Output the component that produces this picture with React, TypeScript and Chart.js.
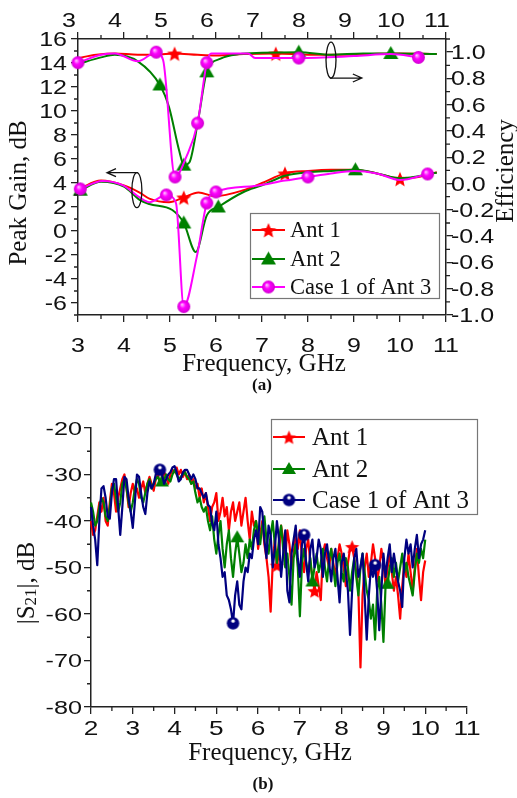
import React, { useEffect, useRef } from 'react';
import { Chart, registerables } from 'chart.js';
Chart.register(...registerables);

const RED = '#ff0000';
const GREEN = '#008000';
const MAGENTA = '#ff00ff';
const NAVY = '#000080';
const AXIS = '#222222';

// ---------- (a) tick labels ----------
const freqTicksA = [3, 4, 5, 6, 7, 8, 9, 10, 11];
const gainTicks = [-6, -4, -2, 0, 2, 4, 6, 8, 10, 12, 14, 16];
const effTicks = [-1.0, -0.8, -0.6, -0.4, -0.2, 0.0, 0.2, 0.4, 0.6, 0.8, 1.0];

// ---------- (b) tick labels ----------
const freqTicksB = [2, 3, 4, 5, 6, 7, 8, 9, 10, 11];
const s21Ticks = [-80, -70, -60, -50, -40, -30, -20];

const seriesNames = ['Ant 1', 'Ant 2', 'Case 1 of Ant 3'];

// ---------- (a) efficiency (right axis) ----------
const effFreqAnt1 = [3.0, 3.4, 3.8, 4.3, 4.7, 5.1, 5.6, 6.0, 6.6, 7.3, 8.0, 8.7, 9.3, 10.0, 10.8];
const effAnt1 = [0.955, 0.98, 0.99, 0.98, 0.98, 0.99, 0.98, 0.975, 0.985, 0.99, 0.98, 0.98, 0.985, 0.99, 0.985];
const effMarksAnt1 = [5.1, 7.3];

const effFreqAnt2 = [3.0, 3.5, 3.8, 4.3, 4.78, 4.98, 5.2, 5.3, 5.42, 5.62, 5.8, 6.1, 6.5, 7.0, 7.8, 8.5, 9.2, 9.8, 10.8];
const effAnt2 = [0.91, 0.96, 0.98, 0.93, 0.75, 0.58, 0.25, 0.14, 0.16, 0.5, 0.85, 0.95, 0.985, 0.995, 1.0, 0.98, 0.99, 0.99, 0.985];
const effMarksAnt2 = [4.78, 5.3, 5.8, 7.8, 9.8];

const effFreqCase1 = [3.0, 3.5, 3.8, 4.3, 4.7, 4.85, 5.11, 5.35, 5.6, 5.8, 5.9, 6.7, 6.85, 7.8, 9.0, 9.8, 10.4];
const effCase1 = [0.92, 0.98, 0.99, 0.93, 1.0, 0.94, 0.05, 0.2, 0.46, 0.92, 0.99, 0.99, 0.955, 0.955, 0.97, 0.985, 0.96];
const effMarksCase1 = [3.0, 4.7, 5.11, 5.6, 5.8, 7.8, 10.4];

// ---------- (a) peak gain (left axis) ----------
const gainFreqAnt1 = [3.02, 3.5, 4.0, 4.34, 4.55, 4.98, 5.3, 5.62, 5.98, 6.6, 7.0, 7.5, 8.0, 8.5, 9.0, 9.5, 10.0, 10.4, 10.8];
const gainAnt1 = [3.5, 4.2, 3.8, 3.2, 2.7, 2.4, 2.8, 3.2, 2.9, 3.4, 4.0, 4.8, 5.0, 5.1, 5.1, 4.8, 4.35, 4.5, 4.9];
const gainMarksAnt1 = [5.3, 7.5, 10.0];

const gainFreqAnt2 = [3.05, 3.5, 4.0, 4.34, 4.55, 5.05, 5.3, 5.56, 5.8, 6.05, 6.6, 7.0, 7.5, 8.0, 8.5, 9.03, 9.5, 10.0, 10.8];
const gainAnt2 = [3.4, 4.1, 3.7, 2.6, 2.25, 1.75, 0.67, -1.75, 1.3, 2.0, 3.25, 3.8, 4.6, 4.9, 5.0, 5.1, 4.8, 4.4, 4.85];
const gainMarksAnt2 = [3.05, 5.3, 6.05, 9.03];

const gainFreqCase1 = [3.05, 3.53, 3.98, 4.34, 4.55, 4.92, 5.13, 5.3, 5.58, 5.8, 6.0, 6.84, 7.5, 8.0, 8.5, 9.0, 9.5, 10.0, 10.6];
const gainCase1 = [3.5, 4.17, 3.8, 2.8, 2.4, 3.0, 2.33, -6.3, -2.2, 2.33, 3.25, 3.75, 4.2, 4.5, 4.8, 5.0, 4.8, 4.25, 4.75];
const gainMarksCase1 = [3.05, 4.92, 5.3, 5.8, 6.0, 8.0, 10.6];

// ---------- (b) |S21| measured sweep, 2..10 GHz, 0.05 GHz step ----------
const freqB: number[] = Array.from({ length: 161 }, (_, i) => Math.round((2 + i * 0.05) * 100) / 100);

const s21Ant1 = [
  -40, -43, -42, -39, -36, -38, -35, -40, -41, -36,
  -32, -34, -38, -35, -33, -31, -30, -33, -37, -34,
  -32, -34, -33, -35, -33, -31.5, -34, -32, -30.5, -32,
  -33.5, -31, -30, -32, -31, -29.5, -30.5, -32, -30, -29,
  -29.5, -28.5, -30, -29, -30.5, -29.5, -31, -30, -32, -31,
  -33, -32, -35, -33, -36, -34, -37, -40, -37, -36,
  -34, -40, -38, -35, -39, -37, -42, -38, -36, -40,
  -38, -36, -41, -38, -35, -40, -44, -38, -41, -40,
  -46, -43, -40, -45, -48, -52, -59.5, -49, -44, -49.5,
  -47, -41, -44, -48, -42, -45, -50, -47, -43, -46,
  -42, -48, -51, -46, -44, -49, -52, -55, -51, -54,
  -57, -47, -45, -48, -50, -46, -49, -52, -48, -45,
  -47, -50, -54, -49, -46, -45.5, -48, -51, -55, -71.5,
  -56, -50, -47, -52, -49, -45, -48, -53, -50, -46,
  -49, -54, -50, -47, -51, -55, -52, -56, -61, -54,
  -49, -52, -47, -51, -55, -50, -46, -52, -57, -51,
  -48.5,
];
const s21MarksAnt1 = [6.45, 7.35, 8.25];

const s21Ant2 = [
  -36, -38, -41, -40, -37, -35, -36, -39, -40, -37,
  -33, -32, -35, -38, -36, -32, -31, -33, -36, -38,
  -36, -33, -31, -32, -35, -36, -34, -32, -31, -33,
  -32, -31, -30.5, -31.5, -31.5, -31, -30, -31, -31.5, -30,
  -29, -30, -31, -30.5, -30, -29.5, -30.5, -31, -32, -31.5,
  -34, -36, -35, -37, -38, -37, -40, -42, -39, -44,
  -47, -43, -40, -46, -50, -45, -42, -48, -52, -47,
  -43.5, -47, -51, -49, -45, -48, -44, -46, -42, -40,
  -43, -45, -41, -39, -44, -47, -43, -40, -45, -49,
  -44, -41, -46, -50, -47, -52, -58, -48, -45, -50,
  -60.5, -49, -46, -49, -51, -48, -53, -50, -47, -51,
  -49, -46, -50, -53, -48, -46, -50, -54, -49, -47,
  -51, -53, -48, -50, -55, -51, -48, -52, -56, -50,
  -47, -51, -55, -57, -61, -58, -65.5, -55, -52, -58,
  -66, -54, -53.5, -50, -48, -52, -49, -53, -50, -47,
  -51, -49, -52, -54, -56, -51, -47, -49, -46, -48,
  -44,
];
const s21MarksAnt2 = [3.7, 5.5, 7.3, 9.1];

const s21Case1 = [
  -37, -41, -44, -49.5, -40, -33, -32.5, -35, -39, -39.5,
  -34, -31, -31, -37, -43, -37, -30.5, -31, -35, -38,
  -41.5, -36, -30, -30.5, -34, -37, -38.5, -34, -31.5, -33,
  -32, -30, -29.5, -29, -30, -32, -31, -30, -29.5, -28.5,
  -28.2, -29.5, -31.5, -31, -29.5, -29, -29, -30, -31, -30,
  -31, -33, -33, -34, -35, -34, -36.5, -37, -40.5, -42,
  -38, -45, -48, -52, -51, -56, -57, -59, -62, -56,
  -53, -58, -59, -53, -50, -51, -47, -48, -44, -42,
  -45, -37, -38, -44, -48, -41, -43, -50, -46, -40,
  -44, -52, -47, -42, -55, -57.5, -47, -44, -41, -48,
  -52, -45, -43, -49, -53, -46, -44, -50, -48, -44,
  -46, -52, -47, -45, -49, -53, -48, -46, -52, -57.5,
  -49, -47, -51, -55, -64.5, -55, -48, -46, -52, -50,
  -47, -56, -65.5, -56, -50, -52, -49.5, -55, -63.5, -55,
  -47, -52, -48, -45, -51, -47, -50, -53, -55, -58.5,
  -48, -44, -47, -45, -50, -46, -43, -48, -45, -44,
  -42,
];
const s21MarksCase1 = [3.65, 5.4, 7.1, 8.8];

// ---------- helpers ----------
function makeMarker(kind: string, color: string, size: number): HTMLCanvasElement {
  const c = document.createElement('canvas');
  const s = Math.ceil(size) + 2;
  c.width = s;
  c.height = s;
  const g = c.getContext('2d')!;
  const cx = s / 2, cy = s / 2, r = size / 2;
  g.fillStyle = color;
  if (kind === 'star') {
    g.beginPath();
    for (let k = 0; k < 10; k++) {
      const rad = k % 2 === 0 ? r : r * 0.45;
      const a = -Math.PI / 2 + (k * Math.PI) / 5;
      const px = cx + rad * Math.cos(a);
      const py = cy + 1 + rad * Math.sin(a);
      if (k === 0) g.moveTo(px, py); else g.lineTo(px, py);
    }
    g.closePath();
    g.fill();
  } else if (kind === 'triangle') {
    const h = size * 0.87;
    g.beginPath();
    g.moveTo(cx, cy - h * 0.58);
    g.lineTo(cx + r, cy + h * 0.42);
    g.lineTo(cx - r, cy + h * 0.42);
    g.closePath();
    g.fill();
  } else if (kind === 'ball') {
    const grad = g.createRadialGradient(cx - r * 0.3, cy - r * 0.35, 0, cx, cy, r);
    grad.addColorStop(0, '#ffd8ff');
    grad.addColorStop(0.45, color);
    grad.addColorStop(1, '#d000d0');
    g.fillStyle = grad;
    g.beginPath();
    g.arc(cx, cy, r, 0, Math.PI * 2);
    g.fill();
  } else {
    g.beginPath();
    g.arc(cx, cy, r, 0, Math.PI * 2);
    g.fill();
    g.fillStyle = '#ffffff';
    g.beginPath();
    g.arc(cx, cy - r * 0.35, r * 0.28, 0, Math.PI * 2);
    g.fill();
  }
  return c;
}

function pts(xs: number[], ys: number[]) {
  return xs.map((x, i) => ({ x, y: ys[i] }));
}

function radii(xs: number[], marks: number[], r: number) {
  return xs.map((x) => (marks.some((m) => Math.abs(m - x) < 1e-6) ? r : 0));
}

function minorsOf(majors: number[], min: number, max: number) {
  const step = majors[1] - majors[0];
  const out: number[] = [];
  out.push(majors[0] - step / 2);
  majors.forEach((m) => out.push(m + step / 2));
  return out.filter((v) => v >= min - 1e-9 && v <= max + 1e-9);
}

function drawMinor(ctx: CanvasRenderingContext2D, scale: any, side: string, area: any, values: number[], len: number) {
  ctx.beginPath();
  values.forEach((v) => {
    const p = scale.getPixelForValue(v);
    if (side === 'bottom') { ctx.moveTo(p, area.bottom); ctx.lineTo(p, area.bottom + len); }
    if (side === 'top') { ctx.moveTo(p, area.top); ctx.lineTo(p, area.top - len); }
    if (side === 'left') { ctx.moveTo(area.left, p); ctx.lineTo(area.left - len, p); }
    if (side === 'right') { ctx.moveTo(area.right, p); ctx.lineTo(area.right + len, p); }
  });
  ctx.stroke();
}

// tick labels: drawn with a horizontal stretch to match the wide digits of the original
function drawLabels(ctx: CanvasRenderingContext2D, scale: any, side: string, values: number[], fmt: (v: number) => string,
  font: string, sx: number, anchor: number, shift: number) {
  ctx.save();
  ctx.font = font;
  ctx.fillStyle = '#111';
  ctx.textBaseline = 'alphabetic';
  values.forEach((v) => {
    const p = scale.getPixelForValue(v);
    const t = fmt(v);
    ctx.save();
    if (side === 'bottom' || side === 'top') {
      ctx.translate(p + shift, anchor);
      ctx.textAlign = 'center';
    } else {
      ctx.translate(anchor, p + shift);
      ctx.textAlign = side === 'left' ? 'right' : 'left';
    }
    ctx.scale(sx, 1);
    ctx.fillText(t, 0, 0);
    ctx.restore();
  });
  ctx.restore();
}

function drawText(ctx: CanvasRenderingContext2D, text: string, x: number, y: number, font: string, rotate = 0) {
  ctx.save();
  ctx.translate(x, y);
  ctx.rotate(rotate);
  ctx.font = font;
  ctx.fillStyle = '#111';
  ctx.textAlign = 'center';
  ctx.textBaseline = 'middle';
  ctx.fillText(text, 0, 0);
  ctx.restore();
}

function drawLegend(ctx: CanvasRenderingContext2D, box: number[], rows: number[], x0: number, x1: number, tx: number,
  font: string, items: { label: string; color: string; img: HTMLCanvasElement }[]) {
  ctx.save();
  ctx.fillStyle = '#fff';
  ctx.fillRect(box[0], box[1], box[2], box[3]);
  ctx.strokeStyle = '#777';
  ctx.lineWidth = 1.2;
  ctx.strokeRect(box[0] + 0.5, box[1] + 0.5, box[2], box[3]);
  items.forEach((it, i) => {
    const y = rows[i];
    ctx.strokeStyle = it.color;
    ctx.lineWidth = 2;
    ctx.beginPath();
    ctx.moveTo(x0, y);
    ctx.lineTo(x1, y);
    ctx.stroke();
    ctx.drawImage(it.img, (x0 + x1) / 2 - it.img.width / 2, y - it.img.height / 2);
    ctx.font = font;
    ctx.fillStyle = '#111';
    ctx.textAlign = 'left';
    ctx.textBaseline = 'middle';
    ctx.fillText(it.label, tx, y + 1);
  });
  ctx.restore();
}

function axisCommon() {
  return {
    grid: { drawOnChartArea: false, drawTicks: true, tickLength: 7, color: AXIS, lineWidth: 1.3 },
    border: { display: true, color: AXIS, width: 1.5 },
    ticks: { display: false, autoSkip: false, maxRotation: 0, minRotation: 0 },
  };
}

const SANS = '"Liberation Sans", Arial, sans-serif';
const SERIF = '"Liberation Serif", "Times New Roman", serif';

function configA(): any {
  const star = makeMarker('star', RED, 16);
  const tri = makeMarker('triangle', GREEN, 15);
  const ball = makeMarker('ball', MAGENTA, 13);
  const ds = (label: string, xs: number[], ys: number[], marks: number[], color: string, img: any, axis: string, order: number) => ({
    label,
    data: pts(xs, ys),
    borderColor: color,
    backgroundColor: color,
    borderWidth: 2,
    pointStyle: img,
    pointRadius: radii(xs, marks, 6),
    pointHoverRadius: 0,
    xAxisID: 'x',
    yAxisID: axis,
    order,
    clip: false,
    cubicInterpolationMode: 'monotone',
    borderJoinStyle: 'round',
  });
  const decor = {
    id: 'decorA',
    afterDraw(chart: any) {
      const ctx = chart.ctx as CanvasRenderingContext2D;
      const area = chart.chartArea;
      const { x, x2, y, y2 } = chart.scales;
      ctx.save();
      ctx.strokeStyle = AXIS;
      ctx.lineWidth = 1.3;
      drawMinor(ctx, x, 'bottom', area, minorsOf(freqTicksA, 3, 11), 4);
      drawMinor(ctx, x2, 'top', area, minorsOf(freqTicksA, 3, 11), 4);
      drawMinor(ctx, y, 'left', area, minorsOf(gainTicks, -7, 16), 4);
      drawMinor(ctx, y2, 'right', area, minorsOf(effTicks, -1, 1.1), 4);
      // annotation: gain curves -> left axis
      ctx.strokeStyle = '#111';
      ctx.lineWidth = 1.3;
      const ex = x.getPixelForValue(4.28), ey = y.getPixelForValue(3.4);
      ctx.beginPath();
      ctx.ellipse(ex, ey, 5, 17.5, 0, 0, Math.PI * 2);
      ctx.stroke();
      const ax = x.getPixelForValue(3.63);
      ctx.beginPath();
      ctx.moveTo(ex + 1, ey - 17.5);
      ctx.lineTo(ax, ey - 17.5);
      ctx.moveTo(ax + 9, ey - 21.5);
      ctx.lineTo(ax, ey - 17.5);
      ctx.lineTo(ax + 9, ey - 13.5);
      ctx.stroke();
      // annotation: efficiency curves -> right axis
      const fx = x.getPixelForValue(8.5), fy = y2.getPixelForValue(0.94);
      ctx.beginPath();
      ctx.ellipse(fx, fy, 5, 18, 0, 0, Math.PI * 2);
      ctx.stroke();
      const bx = x.getPixelForValue(9.17);
      ctx.beginPath();
      ctx.moveTo(fx - 1, fy + 18);
      ctx.lineTo(bx, fy + 18);
      ctx.moveTo(bx - 9, fy + 14);
      ctx.lineTo(bx, fy + 18);
      ctx.lineTo(bx - 9, fy + 22);
      ctx.stroke();
      ctx.restore();
      // tick labels
      const tf = `20px ${SANS}`;
      drawLabels(ctx, x, 'bottom', freqTicksA, (v) => String(v), tf, 1.25, area.bottom + 37, 0);
      drawLabels(ctx, x2, 'top', freqTicksA, (v) => String(v), tf, 1.25, area.top - 12, -9);
      drawLabels(ctx, y, 'left', gainTicks, (v) => String(v), tf, 1.25, area.left - 11, 7);
      drawLabels(ctx, y2, 'right', effTicks, (v) => v.toFixed(1), tf, 1.25, area.right + 5, 7);
      drawText(ctx, 'Peak Gain, dB', 19, 193, `25px ${SERIF}`, -Math.PI / 2);
      drawText(ctx, 'Efficiency', 506, 171, `25px ${SERIF}`, -Math.PI / 2);
      drawText(ctx, 'Frequency, GHz', 264, 364, `25px ${SERIF}`);
      drawText(ctx, '(a)', 262, 386, `bold 17px ${SERIF}`);
      drawLegend(ctx, [250, 213, 189, 85], [230, 259, 287], 252, 285, 290, `22.5px ${SERIF}`, [
        { label: seriesNames[0], color: RED, img: star },
        { label: seriesNames[1], color: GREEN, img: tri },
        { label: seriesNames[2], color: MAGENTA, img: ball },
      ]);
    },
  };
  const c = axisCommon();
  return {
    type: 'line',
    data: {
      datasets: [
        ds(seriesNames[2], effFreqCase1, effCase1, effMarksCase1, MAGENTA, ball, 'y2', 0),
        ds(seriesNames[2], gainFreqCase1, gainCase1, gainMarksCase1, MAGENTA, ball, 'y', 1),
        ds(seriesNames[1], effFreqAnt2, effAnt2, effMarksAnt2, GREEN, tri, 'y2', 2),
        ds(seriesNames[1], gainFreqAnt2, gainAnt2, gainMarksAnt2, GREEN, tri, 'y', 3),
        ds(seriesNames[0], effFreqAnt1, effAnt1, effMarksAnt1, RED, star, 'y2', 4),
        ds(seriesNames[0], gainFreqAnt1, gainAnt1, gainMarksAnt1, RED, star, 'y', 5),
      ],
    },
    options: {
      responsive: false,
      animation: false,
      devicePixelRatio: 1,
      layout: { padding: 0 },
      plugins: { legend: { display: false }, tooltip: { enabled: false } },
      scales: {
        x: {
          type: 'linear', position: 'bottom', min: 3, max: 11, ...c,
          afterBuildTicks: (s: any) => { s.ticks = freqTicksA.map((v) => ({ value: v })); },
          afterFit: (s: any) => { s.height = 85; },
        },
        x2: {
          type: 'linear', position: 'top', min: 3, max: 11, ...c,
          afterBuildTicks: (s: any) => { s.ticks = freqTicksA.map((v) => ({ value: v })); },
          afterFit: (s: any) => { s.height = 39; },
        },
        y: {
          type: 'linear', position: 'left', min: -7, max: 16, ...c,
          afterBuildTicks: (s: any) => { s.ticks = gainTicks.map((v) => ({ value: v })); },
          afterFit: (s: any) => { s.width = 78; },
        },
        y2: {
          type: 'linear', position: 'right', min: -1, max: 1.1, ...c,
          afterBuildTicks: (s: any) => { s.ticks = effTicks.map((v) => ({ value: v })); },
          afterFit: (s: any) => { s.width = 71; },
        },
      },
    },
    plugins: [decor],
  };
}

function configB(): any {
  const star = makeMarker('star', RED, 15);
  const tri = makeMarker('triangle', GREEN, 14);
  const dot = makeMarker('dot', NAVY, 12.5);
  const ds = (label: string, ys: number[], marks: number[], color: string, img: any, order: number) => ({
    label,
    data: pts(freqB, ys),
    borderColor: color,
    backgroundColor: color,
    borderWidth: 2.2,
    pointStyle: img,
    pointRadius: radii(freqB, marks, 6),
    pointHoverRadius: 0,
    order,
    tension: 0,
    borderJoinStyle: 'round',
    clip: false,
  });
  const decor = {
    id: 'decorB',
    afterDraw(chart: any) {
      const ctx = chart.ctx as CanvasRenderingContext2D;
      const area = chart.chartArea;
      const { x, y } = chart.scales;
      ctx.save();
      ctx.strokeStyle = AXIS;
      ctx.lineWidth = 1.3;
      drawMinor(ctx, x, 'bottom', area, minorsOf(freqTicksB, 2, 11), 4);
      drawMinor(ctx, y, 'left', area, minorsOf(s21Ticks, -80, -20), 4);
      ctx.restore();
      drawLabels(ctx, x, 'bottom', freqTicksB, (v) => String(v), `21px ${SANS}`, 1.25, area.bottom + 28, 0);
      drawLabels(ctx, y, 'left', s21Ticks, (v) => String(v), `18px ${SANS}`, 1.4, area.left - 9, 6.5);
      // y title |S21|, dB with subscript
      ctx.save();
      ctx.translate(27, 183);
      ctx.rotate(-Math.PI / 2);
      ctx.fillStyle = '#111';
      ctx.textBaseline = 'middle';
      ctx.textAlign = 'left';
      const big = `25px ${SERIF}`, small = `17px ${SERIF}`;
      ctx.font = big;
      const w1 = ctx.measureText('|S').width;
      const w3 = ctx.measureText('|, dB').width;
      ctx.font = small;
      const w2 = ctx.measureText('21').width;
      let px = -(w1 + w2 + w3) / 2;
      ctx.font = big;
      ctx.fillText('|S', px, 0);
      px += w1;
      ctx.font = small;
      ctx.fillText('21', px, 5);
      px += w2;
      ctx.font = big;
      ctx.fillText('|, dB', px, 0);
      ctx.restore();
      drawText(ctx, 'Frequency, GHz', 270, 353, `25px ${SERIF}`);
      drawText(ctx, '(b)', 263, 385, `bold 17px ${SERIF}`);
      drawLegend(ctx, [271, 19, 206, 95], [37, 69, 100], 273, 305, 312, `25px ${SERIF}`, [
        { label: seriesNames[0], color: RED, img: star },
        { label: seriesNames[1], color: GREEN, img: tri },
        { label: seriesNames[2], color: NAVY, img: dot },
      ]);
    },
  };
  const c = axisCommon();
  return {
    type: 'line',
    data: {
      datasets: [
        ds(seriesNames[2], s21Case1, s21MarksCase1, NAVY, dot, 0),
        ds(seriesNames[1], s21Ant2, s21MarksAnt2, GREEN, tri, 1),
        ds(seriesNames[0], s21Ant1, s21MarksAnt1, RED, star, 2),
      ],
    },
    options: {
      responsive: false,
      animation: false,
      devicePixelRatio: 1,
      layout: { padding: { top: 28, right: 50, left: 0, bottom: 0 } },
      plugins: { legend: { display: false }, tooltip: { enabled: false } },
      scales: {
        x: {
          type: 'linear', position: 'bottom', min: 2, max: 11, ...c,
          afterBuildTicks: (s: any) => { s.ticks = freqTicksB.map((v) => ({ value: v })); },
          afterFit: (s: any) => { s.height = 91; },
        },
        y: {
          type: 'linear', position: 'left', min: -80, max: -20, ...c,
          afterBuildTicks: (s: any) => { s.ticks = s21Ticks.map((v) => ({ value: v })); },
          afterFit: (s: any) => { s.width = 91; },
        },
      },
    },
    plugins: [decor],
  };
}

export default function App() {
  const refA = useRef<HTMLCanvasElement>(null);
  const refB = useRef<HTMLCanvasElement>(null);
  useEffect(() => {
    const a = new Chart(refA.current!, configA());
    const b = new Chart(refB.current!, configB());
    return () => {
      a.destroy();
      b.destroy();
    };
  }, []);
  return (
    <div style={{ position: 'absolute', left: 0, top: 0, width: 517, height: 798, background: '#fff' }}>
      <canvas ref={refA} width={517} height={400} style={{ position: 'absolute', left: 0, top: 0 }} />
      <canvas ref={refB} width={517} height={398} style={{ position: 'absolute', left: 0, top: 400 }} />
    </div>
  );
}
